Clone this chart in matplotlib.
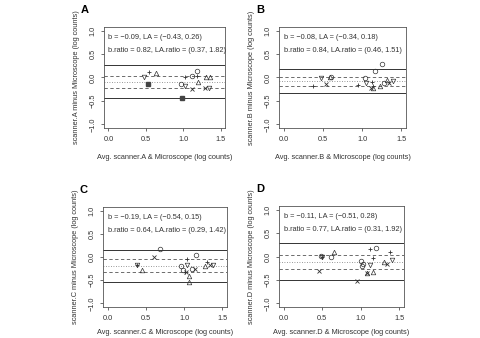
import matplotlib
matplotlib.use('Agg')
import matplotlib.pyplot as plt

plt.rcParams['font.family'] = ['Liberation Sans', 'DejaVu Sans']

# panel labels / scanners
panels = ['A', 'B', 'C', 'D']
scanners = ['scanner.A', 'scanner.B', 'scanner.C', 'scanner.D']

# bias, limits of agreement, dashed CI lines, ratio stats
bias = [-0.09, -0.08, -0.19, -0.11]
la_low = [-0.43, -0.34, -0.54, -0.51]
la_high = [0.26, 0.18, 0.15, 0.28]
ci_low = [-0.22, -0.18, -0.33, -0.26]
ci_high = [0.04, 0.02, -0.05, 0.04]
ratio = [0.82, 0.84, 0.64, 0.77]
ratio_low = [0.37, 0.46, 0.29, 0.31]
ratio_high = [1.82, 1.51, 1.42, 1.92]

# points: averages, differences, R-style symbol codes
avg_A = [0.54, 0.64, 0.47, 0.53, 0.99, 1.03, 0.97, 1.03, 1.12, 1.18, 1.19, 1.20, 1.12, 1.31, 1.36, 1.29, 1.34]
diff_A = [0.12, 0.10, 0.00, -0.13, -0.43, 0.00, -0.14, -0.18, 0.03, 0.13, 0.03, -0.10, -0.24, 0.01, 0.01, -0.22, -0.22]
pch_A = [3, 2, 6, 15, 15, 3, 1, 6, 1, 1, 3, 2, 4, 2, 2, 4, 6]

avg_B = [0.38, 0.47, 0.54, 0.59, 0.60, 0.95, 1.04, 1.05, 1.17, 1.25, 1.13, 1.11, 1.14, 1.14, 1.23, 1.28, 1.32, 1.34, 1.40]
diff_B = [-0.19, -0.01, -0.13, 0.00, 0.00, -0.15, -0.01, -0.12, 0.13, 0.29, -0.10, -0.22, -0.22, -0.19, -0.18, -0.12, -0.06, -0.12, -0.07]
pch_B = [3, 6, 4, 2, 1, 3, 1, 6, 1, 1, 3, 4, 2, 3, 2, 1, 2, 4, 6]

avg_C = [0.39, 0.39, 0.45, 0.61, 0.69, 1.04, 1.04, 0.96, 0.99, 1.02, 1.01, 1.07, 1.06, 1.10, 1.14, 1.16, 1.30, 1.27, 1.34, 1.38]
diff_C = [-0.18, -0.18, -0.29, 0.00, 0.17, -0.05, -0.18, -0.20, -0.28, -0.32, -0.32, -0.41, -0.53, -0.26, -0.25, 0.05, -0.11, -0.20, -0.18, -0.17]
pch_C = [6, 3, 2, 4, 1, 3, 6, 1, 1, 4, 3, 2, 2, 1, 4, 1, 3, 2, 4, 6]

avg_D = [0.50, 0.50, 0.48, 0.61, 0.65, 0.46, 0.95, 1.00, 1.02, 1.03, 1.08, 1.08, 1.16, 1.12, 1.12, 1.20, 1.16, 1.30, 1.34, 1.38, 1.40]
diff_D = [0.00, 0.00, 0.02, 0.00, 0.09, -0.31, -0.53, -0.09, -0.20, -0.15, -0.35, -0.35, -0.34, -0.18, 0.16, 0.19, -0.04, -0.11, -0.15, 0.09, -0.08]
pch_D = [6, 3, 1, 1, 2, 4, 4, 1, 1, 1, 2, 4, 2, 6, 3, 1, 3, 2, 4, 3, 6]

avgs = [avg_A, avg_B, avg_C, avg_D]
diffs = [diff_A, diff_B, diff_C, diff_D]
pchs = [pch_A, pch_B, pch_C, pch_D]

markers = {1: 'o', 2: '^', 3: '+', 4: 'x', 6: 'v', 15: 's'}

W, H = 480, 338
fig = plt.figure(figsize=(W / 100, H / 100), dpi=100)

# axes boxes in pixels (left, top, right, bottom)
boxes = [(104, 27, 225, 128), (279, 27, 406, 128),
         (103, 207, 227, 307), (279, 206, 404, 307)]

ink = '#333333'
fs = 5.3

for i, (l, t, r, b) in enumerate(boxes):
    ax = fig.add_axes([l / W, 1 - b / H, (r - l) / W, (b - t) / H])
    ax.set_xlim(-0.06, 1.56)
    ax.set_ylim(-1.08, 1.08)

    ax.axhline(la_high[i], color=ink, lw=0.7)
    ax.axhline(la_low[i], color=ink, lw=0.7)
    ax.axhline(ci_high[i], color='#555555', lw=0.6, ls=(0, (4, 3)))
    ax.axhline(ci_low[i], color='#555555', lw=0.6, ls=(0, (4, 3)))
    ax.axhline(bias[i], color='#777777', lw=0.6, ls=(0, (1, 2)))

    for x, y, p in zip(avgs[i], diffs[i], pchs[i]):
        m = markers[p]
        if p == 15:
            ax.plot(x, y, marker=m, ms=2.8, color='#444444', ls='none')
        elif m in ('+', 'x'):
            ax.plot(x, y, marker=m, ms=3.2, mew=0.6, color=ink, ls='none')
        else:
            ax.plot(x, y, marker=m, ms=3.3, mew=0.5, mfc='none', mec=ink, ls='none')

    ax.text(0.0, 0.85, 'b = \u22120.%02d, LA = (\u2212%.2f, %.2f)' % (round(-bias[i] * 100), -la_low[i], la_high[i]),
            fontsize=fs, color=ink, va='center', ha='left')
    ax.text(0.0, 0.58, 'b.ratio = %.2f, LA.ratio = (%.2f, %.2f)' % (ratio[i], ratio_low[i], ratio_high[i]),
            fontsize=fs, color=ink, va='center', ha='left')

    ax.set_xticks([0.0, 0.5, 1.0, 1.5])
    ax.set_xticklabels(['0.0', '0.5', '1.0', '1.5'])
    ax.set_yticks([-1.0, -0.5, 0.0, 0.5, 1.0])
    ax.set_yticklabels(['\u22121.0', '\u22120.5', '0.0', '0.5', '1.0'], rotation=90, va='center')
    ax.tick_params(labelsize=fs, length=2.5, width=0.5, colors=ink, pad=3)
    for s in ax.spines.values():
        s.set_linewidth(0.6)
        s.set_color('#555555')

    ax.set_xlabel('Avg. %s & Microscope (log counts)' % scanners[i], fontsize=fs, color=ink,
                  labelpad=8 if i < 2 else 5)
    ax.set_ylabel('%s minus Microscope (log counts)' % scanners[i], fontsize=fs, color=ink, labelpad=7)

    fig.text((l - 19) / W, 1 - (t - 17) / H, panels[i], fontsize=8, fontweight='bold',
             ha='center', va='center')

fig.savefig('out.png', dpi=100, facecolor='white')
